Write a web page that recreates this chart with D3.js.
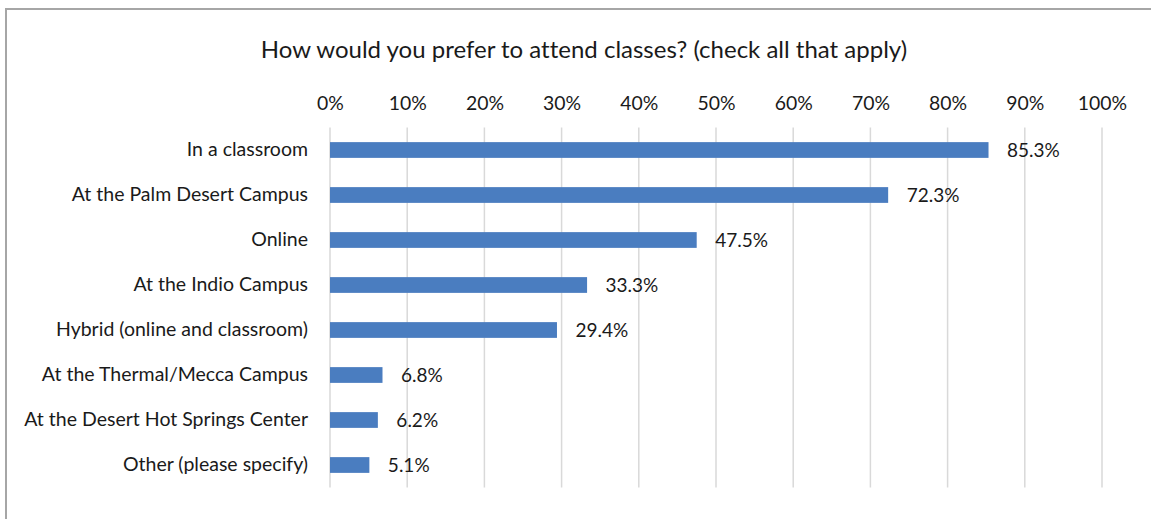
<!DOCTYPE html>
<html>
<head>
<meta charset="utf-8">
<script src="https://cdn.jsdelivr.net/npm/d3@7"></script>
<style>
  html, body { margin: 0; padding: 0; background: #fff; }
  svg { display: block; font-family: Lato, "Open Sans", sans-serif; font-variant-ligatures: none; }
</style>
</head>
<body>
<svg id="chart" width="1151" height="519"></svg>
<script>
// Survey responses: preferred ways to attend classes (percent of respondents)
const categories = [
  "In a classroom",
  "At the Palm Desert Campus",
  "Online",
  "At the Indio Campus",
  "Hybrid (online and classroom)",
  "At the Thermal/Mecca Campus",
  "At the Desert Hot Springs Center",
  "Other (please specify)"
];
const values = [85.3, 72.3, 47.5, 33.3, 29.4, 6.8, 6.2, 5.1];
const tickValues = [0, 10, 20, 30, 40, 50, 60, 70, 80, 90, 100];
const titleText = "How would you prefer to attend classes? (check all that apply)";

const svg = d3.select("#chart");
const W = 1151, H = 519;

// chart frame (runs off the right and bottom edges)
svg.append("rect")
  .attr("x", 6).attr("y", 9)
  .attr("width", W + 10).attr("height", H + 10)
  .attr("fill", "#fff")
  .attr("stroke", "#a6a6a6")
  .attr("stroke-width", 2);

const plot = { left: 330, right: 1102, top: 127.5, bottom: 487.5 };

const x = d3.scaleLinear().domain([0, 100]).range([plot.left, plot.right]);
const y = d3.scaleBand().domain(categories).range([plot.top, plot.bottom]).paddingInner(0.65).paddingOuter(0.325);

// title
svg.append("text")
  .attr("x", 584).attr("y", 58)
  .attr("text-anchor", "middle")
  .attr("font-size", 24)
  .attr("fill", "#1a1a1a")
  .text(titleText);

// vertical gridlines
svg.append("g")
  .selectAll("line")
  .data(tickValues)
  .join("line")
  .attr("x1", d => x(d)).attr("x2", d => x(d))
  .attr("y1", plot.top).attr("y2", plot.bottom)
  .attr("stroke", "#d9d9d9")
  .attr("stroke-width", 1.5);

// top axis labels
const xAxis = d3.axisTop(x).tickValues(tickValues).tickFormat(d => d + "%").tickSize(0).tickPadding(0);
const gx = svg.append("g").attr("transform", `translate(0,${plot.top - 18})`).call(xAxis);
gx.select(".domain").remove();
gx.selectAll("text").attr("font-size", 19.4).attr("fill", "#1a1a1a").attr("font-family", "Lato, sans-serif");

// category labels
const yAxis = d3.axisLeft(y).tickSize(0).tickPadding(22);
const gy = svg.append("g").attr("transform", `translate(${plot.left},0)`).call(yAxis);
gy.select(".domain").remove();
gy.selectAll("text").attr("font-size", 19.5).attr("fill", "#1a1a1a").attr("font-family", "Lato, sans-serif");

// bars
svg.append("g")
  .selectAll("rect")
  .data(values)
  .join("rect")
  .attr("x", x(0))
  .attr("y", (d, i) => y(categories[i]))
  .attr("width", d => x(d) - x(0))
  .attr("height", y.bandwidth())
  .attr("fill", "#4a7dc0");

// value labels
svg.append("g")
  .selectAll("text")
  .data(values)
  .join("text")
  .attr("x", d => x(d) + 18.5)
  .attr("y", (d, i) => y(categories[i]) + y.bandwidth() / 2)
  .attr("dy", "0.35em")
  .attr("font-size", 19)
  .attr("fill", "#1a1a1a")
  .text(d => d.toFixed(1) + "%");
</script>
</body>
</html>
